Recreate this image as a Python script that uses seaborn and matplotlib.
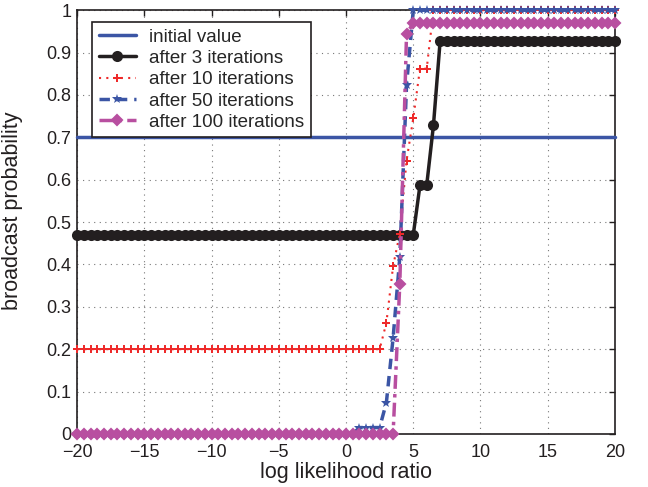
import numpy as np
import pandas as pd
import matplotlib
matplotlib.use("Agg")
import matplotlib.pyplot as plt
import seaborn as sns

# log likelihood ratio grid (step 0.5)
llr = np.arange(-20, 20.01, 0.5)

initial_value = 0.7

# broadcast probability after each number of iterations, listed as
# breakpoints on the 0.5 grid plus the flat levels before and after them
after3_pts = {5.0: 0.47, 5.5: 0.587, 6.0: 0.587, 6.5: 0.728, 7.0: 0.928}
after3_low, after3_high = 0.47, 0.928

after10_pts = {2.5: 0.2, 3.0: 0.262, 3.5: 0.396, 4.0: 0.473, 4.5: 0.645,
               5.0: 0.745, 5.5: 0.862, 6.0: 0.862, 6.5: 1.0}
after10_low, after10_high = 0.2, 1.0

after50_pts = {0.5: 0.0, 1.0: 0.015, 1.5: 0.015, 2.0: 0.015, 2.5: 0.015,
               3.0: 0.074, 3.5: 0.226, 4.0: 0.417, 4.5: 0.823, 5.0: 1.0}
after50_low, after50_high = 0.0, 1.0

after100_pts = {3.5: 0.0, 4.0: 0.355, 4.5: 0.945, 5.0: 0.969}
after100_low, after100_high = 0.0, 0.969


def series(pts, low, high):
    keys = sorted(pts)
    out = []
    for x in llr:
        if x in pts:
            out.append(pts[x])
        elif x < keys[0]:
            out.append(low)
        else:
            out.append(high)
    return np.array(out)


y3 = series(after3_pts, after3_low, after3_high)
y10 = series(after10_pts, after10_low, after10_high)
y50 = series(after50_pts, after50_low, after50_high)
y100 = series(after100_pts, after100_low, after100_high)

df = pd.DataFrame({"llr": llr, "init": np.full_like(llr, initial_value),
                   "a3": y3, "a10": y10, "a50": y50, "a100": y100})

sns.set_style("white")
plt.rcParams["font.family"] = ["Liberation Sans", "DejaVu Sans"]

BLUE = "#3b55a5"
BLACK = "#231f20"
RED = "#ee2a2a"
MAGENTA = "#b84fa0"

fig = plt.figure(figsize=(6.48, 4.87), dpi=100)
ax = fig.add_axes([0.119, 0.109, 0.830, 0.870])

common = dict(ax=ax, clip_on=False)
sns.lineplot(data=df, x="llr", y="init", color=BLUE, lw=2.5,
             label="initial value", **common)
sns.lineplot(data=df, x="llr", y="a3", color=BLACK, lw=2.5,
             marker="o", markersize=8, markeredgewidth=0,
             label="after 3 iterations", **common)
sns.lineplot(data=df, x="llr", y="a10", color=RED, lw=1.5,
             linestyle=(0, (1, 2.5)), marker="P", markersize=6,
             markeredgewidth=0, label="after 10 iterations", **common)
sns.lineplot(data=df, x="llr", y="a50", color=BLUE, lw=2.5,
             linestyle=(0, (3, 2)), marker="*", markersize=7,
             markeredgewidth=0, label="after 50 iterations", **common)
sns.lineplot(data=df, x="llr", y="a100", color=MAGENTA, lw=2.5,
             linestyle=(0, (4, 1.5, 1, 1.5)), marker="D", markersize=5.5,
             markerfacecolor=MAGENTA, markeredgecolor=MAGENTA,
             markeredgewidth=1.5, label="after 100 iterations", **common)

ax.set_xlim(-20, 20)
ax.set_ylim(0, 1)
xt = np.arange(-20, 21, 5)
ax.set_xticks(xt)
ax.set_xticklabels([f"{v}".replace("-", "\u2212") for v in xt])
yt = np.round(np.arange(0, 1.01, 0.1), 1)
ax.set_yticks(yt)
ax.set_yticklabels(["0"] + [f"{v:.1f}" for v in yt[1:-1]] + ["1"])
ax.tick_params(direction="in", length=4, width=1, labelsize=13,
               top=True, right=True, colors=BLACK)
ax.tick_params(axis="x", pad=7)
ax.tick_params(axis="y", pad=4)
ax.grid(True, linestyle=(0, (1, 4)), color="#777777", lw=0.8)
for sp in ax.spines.values():
    sp.set_color(BLACK)
    sp.set_linewidth(1.2)
    sp.set_zorder(1)

ax.set_xlabel("log likelihood ratio", fontsize=15.5, color=BLACK, labelpad=1)
ax.set_ylabel("broadcast probability", fontsize=15.5, color=BLACK)
ax.yaxis.set_label_coords(-0.1, 0.526)

leg = ax.legend(loc="upper left", bbox_to_anchor=(0.028, 0.972),
                borderaxespad=0, fontsize=13.5, frameon=True, fancybox=False,
                edgecolor=BLACK, framealpha=1, handlelength=2.0,
                borderpad=0.35, labelspacing=0.22, handletextpad=0.7)
leg.get_frame().set_linewidth(1.2)
leg.set_zorder(10)

fig.savefig("out.png", dpi=100)
